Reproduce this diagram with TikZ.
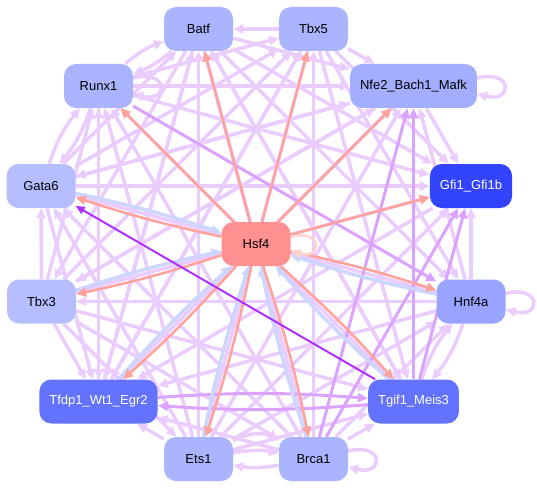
\documentclass[tikz,border=0pt]{standalone}
\usepackage{fontspec}
\setmainfont{Liberation Sans}
\usetikzlibrary{arrows.meta,backgrounds}
\definecolor{lila}{HTML}{EBCCFF}
\definecolor{mlila}{HTML}{DBA3FF}
\definecolor{dlila}{HTML}{B030FF}
\definecolor{lachs}{HTML}{FFA29C}
\definecolor{blass}{HTML}{FFD3CE}
\definecolor{hblau}{HTML}{CCD6FF}
\definecolor{gA}{HTML}{AAB4FF}
\definecolor{gB}{HTML}{B6BEFF}
\definecolor{gC}{HTML}{A4AEFF}
\definecolor{gD}{HTML}{98A4FF}
\definecolor{gE}{HTML}{6473FF}
\definecolor{gF}{HTML}{3344FF}
\definecolor{gH}{HTML}{FF9190}
\tikzset{
	gen/.style={rectangle, rounded corners=12pt, minimum width=69pt, minimum height=44pt,
		inner xsep=10pt, font=\fontsize{13}{15}\selectfont, text=black},
	tip/.style={-{Triangle[length=10pt,width=9pt]}},
	reg/.style={tip, line width=3.5pt, lila},
	regm/.style={tip, line width=3pt, mlila},
	regd/.style={-{Triangle[length=9pt,width=8pt]}, line width=2pt, dlila},
	hsfout/.style={tip, line width=2.5pt, lachs},
	hsfin/.style={tip, line width=3.5pt, hblau},
}
\begin{document}
\begin{tikzpicture}[x=1pt,y=-1pt]
	\useasboundingbox (0,0) rectangle (537,489);
	% Узлы
	\node[gen, fill=gA] (batf) at (198.5,29) {Batf};
	\node[gen, fill=gA] (tbx5) at (313.5,29) {Tbx5};
	\node[gen, fill=gA] (runx) at (98.5,86) {Runx1};
	\node[gen, fill=gC] (nfe) at (413.5,86) {Nfe2\_Bach1\_Mafk};
	\node[gen, fill=gB] (gata) at (41,186) {Gata6};
	\node[gen, fill=gF, text=white] (gfi) at (471,186) {Gfi1\_Gfi1b};
	\node[gen, fill=gH] (hsf) at (256,244) {Hsf4};
	\node[gen, fill=gB] (tbx3) at (41.5,301.5) {Tbx3};
	\node[gen, fill=gD] (hnf) at (471,301.5) {Hnf4a};
	\node[gen, fill=gE, text=white] (tfdp) at (98.5,401.5) {Tfdp1\_Wt1\_Egr2};
	\node[gen, fill=gE, text=white] (tgif) at (413.5,401.5) {Tgif1\_Meis3};
	\node[gen, fill=gA] (ets) at (198.5,459) {Ets1};
	\node[gen, fill=gA] (brca) at (313.5,459) {Brca1};

	\begin{scope}[on background layer]
		% Светлые связи
		\foreach \a/\b in {tbx3/gata, tbx3/tfdp, ets/tfdp, brca/tgif, hnf/gfi, nfe/gfi,
			tbx5/nfe, batf/nfe, runx/nfe, gata/nfe, tbx3/nfe, tfdp/nfe, ets/nfe, hnf/nfe,
			gata/tbx5, runx/tbx5, tbx3/tbx5, tfdp/tbx5, tbx5/ets, brca/tbx5,
			tbx5/batf, tfdp/batf, ets/batf, brca/batf, tgif/batf, gata/batf,
			tbx3/runx, tfdp/runx, ets/runx, brca/runx, tgif/runx,
			batf/gfi, tbx5/gfi, runx/gfi, gata/gfi, tbx3/gfi, ets/gfi,
			nfe/gata, hnf/gata, ets/gata, brca/gata,
			batf/tbx3, nfe/tbx3, hnf/tbx3, tbx3/ets,
			batf/tfdp, tbx5/tfdp, runx/tfdp, gata/tfdp, nfe/tfdp, gfi/tfdp, hnf/tfdp, brca/tfdp,
			batf/tgif, tbx5/tgif, tbx3/tgif, ets/tgif,
			batf/hnf, tbx5/hnf, ets/hnf, brca/hnf, batf/brca, tbx3/brca}
			\draw[reg] (\a) -- (\b);
		% Встречные пары
		\foreach \a/\b in {batf/runx, runx/batf, runx/gata, gata/runx, tgif/hnf, hnf/tgif,
			ets/brca, brca/ets}
			\draw[reg] (\a) to[bend left=10] (\b);
		\draw[reg] (ets) to[bend left=28] (brca);
		% Петли
		\foreach \a in {runx, nfe, hnf, brca}
			\draw[reg] ([yshift=8pt]\a.east) .. controls +(36,-9) and +(36,9) .. ([yshift=-8pt]\a.east);
		% Средние
		\foreach \a/\b in {tgif/nfe, brca/nfe, runx/hnf, brca/gfi, tgif/gfi}
			\draw[regm] (\a) -- (\b);
		\draw[regm] (tfdp) to[bend left=4] (tgif);
		\draw[regm] (tgif) to[bend left=4] (tfdp);
		% Hsf4
		\foreach \b in {batf, tbx5, runx, nfe, gfi}
			\draw[hsfout] (hsf) -- (\b);
		\foreach \b in {gata, tbx3, hnf, tfdp, tgif, ets, brca} {
			\draw[hsfin] (\b) to[bend left=3] (hsf);
			\draw[hsfout] (hsf) to[bend left=3] (\b);
		}
		\draw[tip, line width=2.5pt, blass] ([yshift=7pt]hsf.east) .. controls +(32,-9) and +(32,9) .. ([yshift=-7pt]hsf.east);
		% Темная
		\draw[regd] (tgif) -- (gata);
	\end{scope}
\end{tikzpicture}
\end{document}
